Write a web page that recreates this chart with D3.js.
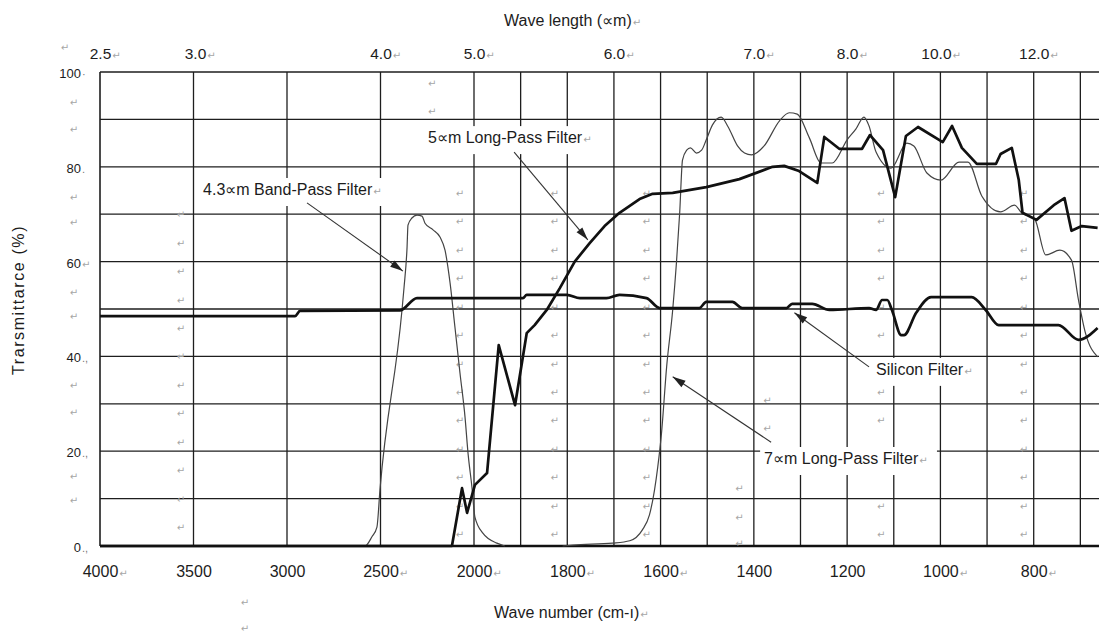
<!DOCTYPE html>
<html><head><meta charset="utf-8">
<script src="https://cdn.jsdelivr.net/npm/d3@7"></script>
<style>
body{margin:0;background:#fff;}
svg{display:block;}
text{font-family:"Liberation Sans",Arial,sans-serif;fill:#1c1c1c;}
.pm{font-family:"DejaVu Sans",sans-serif;font-size:10px;fill:#a6a6a6;}
</style></head><body>
<svg id="c" width="1099" height="635"></svg>
<script>
// ---------------- data ----------------
const bandPassWn = [4000, 2583, 2545, 2519, 2503, 2385, 2374, 2358, 2353, 2332, 2305, 2278, 2262, 2219, 2182, 2155, 2128, 2102, 2075, 2048, 2032, 2011, 1998, 1981, 1951, 1934];
const bandPassT  = [0, 0, 2, 4, 11.8, 49.8, 54.6, 63, 67.7, 69.2, 69.8, 69.6, 68.1, 66.7, 65.2, 62.4, 55.5, 46.2, 36.5, 27.2, 19.6, 12.4, 6.1, 2.7, 0.6, 0];

const siliconWn = [4000, 2957, 2930, 2396, 2305, 1895, 1887, 1801, 1773, 1716, 1688, 1630, 1602, 1517, 1502, 1446, 1425, 1330, 1318, 1275, 1238, 1153, 1138, 1125, 1114, 1104, 1084, 1078, 1052, 1020, 933, 903, 875, 747, 704, 663];
const siliconT  = [48.5, 48.5, 49.6, 49.7, 52.3, 52.3, 53, 53, 52.3, 52.3, 53, 52.3, 50.2, 50.2, 51.5, 51.5, 50.2, 50.2, 51.1, 51.1, 49.8, 50.2, 49.8, 51.9, 51.9, 49.8, 44.5, 44.5, 49.2, 52.5, 52.5, 49.8, 46.6, 46.6, 43.5, 46.0];

const lp5Wn = [4000, 2118, 2064, 2037, 1998, 1972, 1947, 1912, 1887, 1870, 1844, 1816, 1784, 1752, 1720, 1688, 1645, 1617, 1574, 1502, 1431, 1360, 1335, 1303, 1264, 1249, 1217, 1168, 1151, 1123, 1097, 1074, 1048, 995, 975, 954, 922, 881, 871, 847, 832, 824, 794, 757, 734, 719, 697, 663];
const lp5T  = [0, 0, 12.2, 7, 12.9, 15.4, 42.4, 29.7, 44.9, 46.6, 49.8, 54.4, 60, 63.9, 67.5, 70.3, 73.2, 74.3, 74.5, 75.7, 77.4, 80, 80.2, 79.1, 76.6, 86.3, 83.8, 83.8, 86.7, 83.5, 73.6, 86.5, 88.4, 85.2, 88.6, 84, 80.6, 80.6, 82.7, 84, 77.2, 70.3, 68.8, 71.9, 73.4, 66.5, 67.5, 67.1];

const lp7Wn = [1810, 1788, 1703, 1666, 1639, 1624, 1613, 1606, 1598, 1587, 1574, 1566, 1559, 1553, 1544, 1536, 1523, 1512, 1502, 1489, 1470, 1455, 1435, 1420, 1405, 1378, 1345, 1324, 1307, 1281, 1256, 1232, 1200, 1181, 1164, 1153, 1138, 1106, 1072, 1057, 1029, 999, 960, 941, 911, 871, 841, 826, 798, 774, 744, 719, 704, 689, 663];
const lp7T  = [0, 0.2, 0.6, 1.1, 3.4, 6.5, 11.8, 16.7, 23.8, 37.8, 49.8, 59.7, 70.3, 81.4, 83.5, 84, 82.9, 83.5, 85.7, 88.8, 90.5, 88.4, 84.4, 82.9, 82.5, 84.4, 89.7, 91.4, 91.1, 86.1, 80.8, 80.8, 85.7, 88, 90.5, 88.6, 83.1, 79.7, 85, 84.4, 78.7, 77.2, 81, 81, 73.8, 70.5, 71.9, 70.3, 69, 61.4, 62.4, 60.3, 51.9, 44.9, 39.9];

const yTicks = [0, 20, 40, 60, 80, 100];
const yTickSuffix = [".,", ".,", ".,", "\u21B5", ".", "\u00B7"];
const bottomTicks = [4000, 3500, 3000, 2500, 2000, 1800, 1600, 1400, 1200, 1000, 800];
const bottomTickMark = [true, false, false, true, true, true, true, false, false, true, true];
const topTickLabels = ["2.5", "3.0", "4.0", "5.0", "6.0", "7.0", "8.0", "10.0", "12.0"];
const topTickWn = [4000, 3500, 2500, 2000, 1700, 1400, 1200, 1000, 800];
const gridWn = [4000, 3500, 3000, 2500, 2000, 1900, 1800, 1700, 1600, 1500, 1400, 1300, 1200, 1100, 1000, 900, 800, 700];
const gridT = [10, 20, 30, 40, 50, 60, 70, 80, 90, 100];

// paragraph marks (word-processor artefacts) in data units
const pmColsWn = [2075, 1827, 1630, 1127, 821];
const pmRowsT = [74.5, 68.5, 62.5, 56.5, 50.5, 44.5, 38.5, 32.5, 26.5, 20.5, 14.5, 8.5, 2.5];
const pmLeftColWn = 3567;
const pmLeftRowsT = [70, 64, 58, 52, 46, 40, 34, 28, 22, 16, 10, 4];
const pmExtraWn = [2224, 2224, 1371, 1371, 1431, 1431, 1431];
const pmExtraT = [97.7, 91.8, 30.8, 24.9, 12.2, 6.1, 0.6];
const pmAxisT = [93.7, 88.0, 73.6, 68.4, 53.6, 48.5, 34.0, 28.3, 14.8, 9.7];

const annotations = [
  {text: "4.3\u221Dm Band-Pass Filter", wn: 3449, t: 74.05, fromWn: 2893, fromT: 72.4, toWn: 2380, toT: 58.0},
  {text: "5\u221Dm Long-Pass Filter", wn: 2246, t: 85.0, fromWn: 1914, fromT: 83.1, toWn: 1756, toT: 64.6},
  {text: "Silicon Filter", wn: 1138, t: 36.1, fromWn: 1153, fromT: 37.8, toWn: 1313, toT: 49.2},
  {text: "7\u221Dm Long-Pass Filter", wn: 1378, t: 17.3, fromWn: 1363, fromT: 21.9, toWn: 1574, toT: 35.7}
];

// ---------------- chart ----------------
const svg = d3.select("#c");
const x = d3.scaleLinear().domain([4000, 2000, 660]).range([100, 474, 1099]);
const y = d3.scaleLinear().domain([0, 100]).range([546, 72]);
const MARK = "\u21B5";
const addMarkSpan = (sel, dy) => sel.append("tspan").attr("class", "pm").attr("dx", 1).attr("dy", dy || 0).text(MARK);

const defs = svg.append("defs");
defs.append("marker").attr("id", "ah").attr("markerUnits", "userSpaceOnUse")
  .attr("viewBox", "-14 -5 15 10").attr("refX", 0).attr("refY", 0)
  .attr("markerWidth", 15).attr("markerHeight", 10).attr("orient", "auto")
  .append("path").attr("d", "M0,0 L-13,-3.8 L-13,3.8 Z").attr("fill", "#222");

// grid
const grid = svg.append("g");
grid.selectAll("line.v").data(gridWn).join("line").attr("class", "v")
  .attr("x1", d => x(d)).attr("x2", d => x(d)).attr("y1", y(0)).attr("y2", y(100))
  .attr("stroke", "#1e1e1e").attr("stroke-width", d => d === 4000 ? 1.6 : 1.3);
grid.selectAll("line.h").data(gridT).join("line").attr("class", "h")
  .attr("x1", x(4000)).attr("x2", x(660)).attr("y1", d => y(d)).attr("y2", d => y(d))
  .attr("stroke", "#1e1e1e").attr("stroke-width", 1.3);
grid.append("line").attr("x1", x(4000)).attr("x2", x(660)).attr("y1", y(0)).attr("y2", y(0))
  .attr("stroke", "#111").attr("stroke-width", 2.4);

const pm = svg.append("g");
const boxes = svg.append("g");
const curves = svg.append("g").attr("fill", "none").attr("stroke-linejoin", "round");
const ann = svg.append("g");
const arrows = svg.append("g");

// annotation text + white boxes
const annTexts = ann.selectAll("text").data(annotations).join("text")
  .attr("x", d => x(d.wn)).attr("y", d => y(d.t)).attr("font-size", 16).text(d => d.text);
annTexts.each(function(d) { d.w = this.getBBox().width; });
annTexts.each(function() { addMarkSpan(d3.select(this)); });
annotations.forEach(d => {
  d.bx0 = x(d.wn) - 4; d.by0 = y(d.t) - 17; d.bw = d.w + 22; d.bh = 28;
  boxes.append("rect").attr("x", d.bx0).attr("y", d.by0)
    .attr("width", d.bw).attr("height", d.bh).attr("fill", "#fff");
});
const inBox = (px, py) => annotations.some(d => px > d.bx0 - 6 && px < d.bx0 + d.bw + 6 && py > d.by0 - 4 && py < d.by0 + d.bh + 4);

// paragraph marks
const pmPts = [];
pmColsWn.forEach(w => pmRowsT.forEach(t => pmPts.push([w, t])));
pmLeftRowsT.forEach(t => pmPts.push([pmLeftColWn, t]));
pmExtraWn.forEach((w, i) => pmPts.push([w, pmExtraT[i]]));
pm.selectAll("text.g").data(pmPts.filter(d => !inBox(x(d[0]), y(d[1])))).join("text").attr("class", "pm g")
  .attr("x", d => x(d[0])).attr("y", d => y(d[1]) + 4).attr("text-anchor", "middle").text(MARK);
pm.selectAll("text.ax").data(pmAxisT).join("text").attr("class", "pm ax")
  .attr("x", 74).attr("y", d => y(d) + 4).attr("text-anchor", "middle").text(MARK);
[[65, 51], [245, 606], [245, 632]].forEach(p =>
  pm.append("text").attr("class", "pm").attr("x", p[0]).attr("y", p[1]).attr("text-anchor", "middle").text(MARK));

// curves
const lineSmooth = d3.line().x(d => x(d[0])).y(d => y(d[1])).curve(d3.curveMonotoneX);
const lineLin = d3.line().x(d => x(d[0])).y(d => y(d[1]));
const zip = (a, b) => a.map((v, i) => [v, b[i]]);
curves.append("path").attr("d", lineSmooth(zip(bandPassWn, bandPassT))).attr("stroke", "#444").attr("stroke-width", 1.2);
curves.append("path").attr("d", lineSmooth(zip(lp7Wn, lp7T))).attr("stroke", "#444").attr("stroke-width", 1.2);
curves.append("path").attr("d", lineSmooth(zip(siliconWn, siliconT))).attr("stroke", "#111").attr("stroke-width", 2.7);
curves.append("path").attr("d", lineLin(zip(lp5Wn, lp5T))).attr("stroke", "#111").attr("stroke-width", 2.7);

// arrows
arrows.selectAll("line").data(annotations).join("line")
  .attr("x1", d => x(d.fromWn)).attr("y1", d => y(d.fromT))
  .attr("x2", d => x(d.toWn)).attr("y2", d => y(d.toT))
  .attr("stroke", "#333").attr("stroke-width", 1.1).attr("marker-end", "url(#ah)");

// axes: number centred on the tick, paragraph mark appended as tspan
function centreWithMark(sel, flags) {
  sel.selectAll(".tick text").each(function(d, i) {
    const t = d3.select(this);
    const w = this.getComputedTextLength();
    t.attr("text-anchor", "start").attr("x", -w / 2);
    if (!flags || flags[i]) addMarkSpan(t);
  });
}
const bottomAxis = svg.append("g").attr("transform", "translate(0,566)")
  .call(d3.axisBottom(x).tickValues(bottomTicks).tickSize(0).tickPadding(0).tickFormat(d3.format("d")));
bottomAxis.select(".domain").remove();
bottomAxis.selectAll(".tick text").attr("font-size", 16).attr("fill", "#1c1c1c").attr("font-family", "Liberation Sans, Arial, sans-serif").attr("dy", "0.71em");
centreWithMark(bottomAxis, bottomTickMark);

const topAxis = svg.append("g").attr("transform", "translate(0,59)")
  .call(d3.axisTop(x).tickValues(topTickWn).tickSize(0).tickPadding(0).tickFormat((d, i) => topTickLabels[i]));
topAxis.select(".domain").remove();
topAxis.selectAll(".tick text").attr("font-size", 15.5).attr("fill", "#1c1c1c").attr("font-family", "Liberation Sans, Arial, sans-serif").attr("dy", 0);
topAxis.selectAll(".tick").filter(d => d === 3500).attr("transform", `translate(${x(3500) + 2},0)`);
topAxis.selectAll(".tick").filter(d => d === 1000).attr("transform", `translate(${x(1000) - 4},0)`);
centreWithMark(topAxis, null);

const leftAxis = svg.append("g").attr("transform", "translate(81,0)")
  .call(d3.axisLeft(y).tickValues(yTicks).tickSize(0).tickPadding(0));
leftAxis.select(".domain").remove();
leftAxis.selectAll(".tick text").attr("font-size", 13).attr("fill", "#1c1c1c").attr("font-family", "Liberation Sans, Arial, sans-serif").attr("dy", "0.42em");
leftAxis.selectAll(".tick text").each(function(d, i) {
  const t = d3.select(this);
  const w = this.getComputedTextLength();
  t.attr("text-anchor", "start").attr("x", -w);
  const s = yTickSuffix[i];
  t.append("tspan").attr("class", s === MARK ? "pm" : null).attr("dx", 1)
    .attr("font-size", 11).attr("fill", "#777").text(s);
});

// titles
addMarkSpan(svg.append("text").attr("x", 504).attr("y", 26).attr("font-size", 16).text("Wave length (\u221Dm)"));
addMarkSpan(svg.append("text").attr("x", 494).attr("y", 618).attr("font-size", 16).text("Wave number (cm-\u0131)"));
svg.append("text").attr("transform", "translate(24,300) rotate(-90)").attr("text-anchor", "middle")
  .attr("font-size", 16).attr("letter-spacing", 1.6).text("Trarsmittarce (%)");
</script>
</body></html>
